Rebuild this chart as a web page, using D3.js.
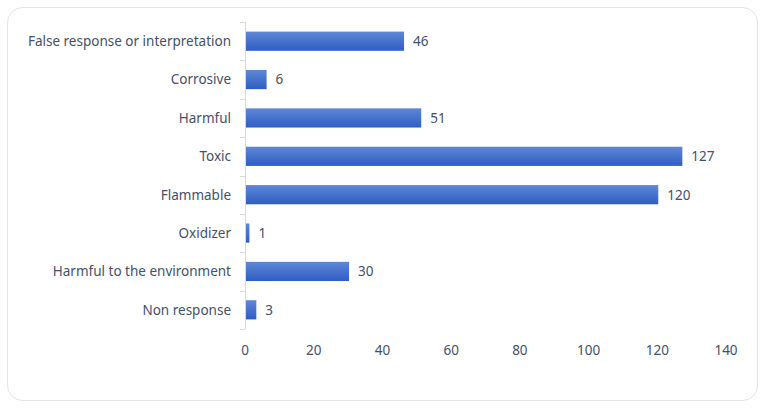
<!DOCTYPE html>
<html><head><meta charset="utf-8">
<script src="https://cdn.jsdelivr.net/npm/d3@7"></script>
<style>
html,body{margin:0;padding:0;background:#fff;}
svg{display:block;font-family:"Noto Sans","Open Sans",sans-serif;}
</style></head>
<body>
<svg id="chart" width="765" height="409"></svg>
<script>
const categories = ["False response or interpretation","Corrosive","Harmful","Toxic","Flammable","Oxidizer","Harmful to the environment","Non response"];
const values = [46,6,51,127,120,1,30,3];
const xTicks = [0,20,40,60,80,100,120,140];

(function(){
const svg = d3.select("#chart");
svg.append("rect").attr("x",7.5).attr("y",7.5).attr("width",750).attr("height",393)
  .attr("rx",15).attr("fill","#fff").attr("stroke","#e3e3e8").attr("stroke-width",1);

const defs = svg.append("defs");
const g1 = defs.append("linearGradient").attr("id","barGrad").attr("x1",0).attr("y1",0).attr("x2",0).attr("y2",1);
g1.append("stop").attr("offset","0%").attr("stop-color","#5f87d8");
g1.append("stop").attr("offset","100%").attr("stop-color","#2f5ec2");

const mLeft = 245, mRight = 726, mTop = 22, mBottom = 329;
const x = d3.scaleLinear().domain([0,140]).range([mLeft,mRight]);
const y = d3.scaleBand().domain(categories).range([mTop,mBottom]).paddingInner(0.5).paddingOuter(0.25);
const fs = 13.5, txt = "#44506a";

const step = y.step();
svg.append("line").attr("x1",mLeft+0.5).attr("x2",mLeft+0.5).attr("y1",mTop).attr("y2",mBottom)
  .attr("stroke","#d9d9d9");
const bounds = d3.range(categories.length+1).map(i => mTop + i*step);
svg.selectAll(".bt").data(bounds).join("line")
  .attr("x1",mLeft-5).attr("x2",mLeft).attr("y1",d=>Math.round(d)+0.5).attr("y2",d=>Math.round(d)+0.5)
  .attr("stroke","#d9d9d9");

svg.selectAll(".bar").data(values).join("rect")
  .attr("x",x(0)+1).attr("y",(d,i)=>y(categories[i]))
  .attr("width",d=>x(d)-x(0)).attr("height",y.bandwidth())
  .attr("fill","url(#barGrad)");

svg.selectAll(".val").data(values).join("text")
  .attr("x",d=>x(d)+10).attr("y",(d,i)=>y(categories[i])+y.bandwidth()/2)
  .attr("dy","0.36em").attr("font-size",fs).attr("fill",txt).text(d=>d);

svg.selectAll(".cat").data(categories).join("text")
  .attr("x",mLeft-14).attr("y",d=>y(d)+y.bandwidth()/2)
  .attr("dy","0.36em").attr("text-anchor","end").attr("font-size",fs).attr("fill",txt).text(d=>d);

svg.selectAll(".xt").data(xTicks).join("text")
  .attr("x",d=>x(d)).attr("y",350).attr("dy","0.36em").attr("text-anchor","middle")
  .attr("font-size",fs).attr("fill",txt).text(d=>d);
})();
</script>
</body></html>
